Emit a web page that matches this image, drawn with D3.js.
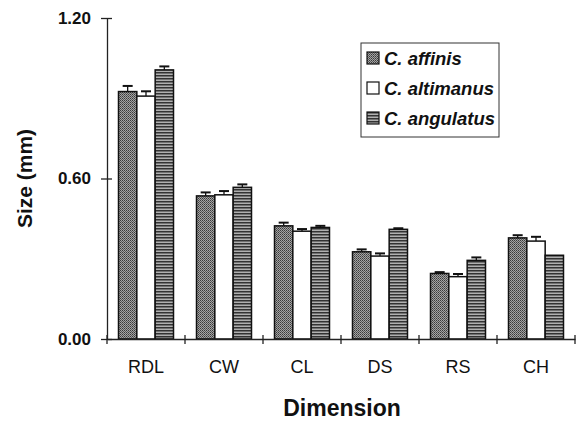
<!DOCTYPE html>
<html>
<head>
<meta charset="utf-8">
<script src="https://cdn.jsdelivr.net/npm/d3@7.9.0/dist/d3.min.js"></script>
<style>
  body { margin: 0; background: #fff; }
  svg { display: block; font-family: "Liberation Sans", Arial, sans-serif; }
</style>
</head>
<body>
<div id="chart"></div>
<script>
// values (mm)
const dimensions = ["RDL", "CW", "CL", "DS", "RS", "CH"];
const species = ["C. affinis", "C. altimanus", "C. angulatus"];
const affinisMean = [0.925, 0.535, 0.423, 0.326, 0.245, 0.378];
const affinisErr  = [0.021, 0.013, 0.012, 0.009, 0.005, 0.010];
const altimanusMean = [0.908, 0.539, 0.403, 0.310, 0.233, 0.366];
const altimanusErr  = [0.018, 0.014, 0.008, 0.010, 0.010, 0.016];
const angulatusMean = [1.006, 0.567, 0.417, 0.410, 0.294, 0.313];
const angulatusErr  = [0.013, 0.011, 0.006, 0.004, 0.011, 0.000];
const yTicks = [0, 0.6, 1.2];

const width = 577;
const height = 423;
const margin = { top: 18, right: 2, bottom: 84, left: 107 };

const means = [affinisMean, altimanusMean, angulatusMean];
const errs = [affinisErr, altimanusErr, angulatusErr];

const rows = [];
dimensions.forEach((dim, i) => {
  species.forEach((sp, j) => {
    rows.push({ dim, sp, mean: means[j][i], err: errs[j][i] });
  });
});

const svg = d3.select("#chart")
  .append("svg")
  .attr("width", width)
  .attr("height", height);

// fill patterns
const defs = svg.append("defs");

const dots = defs.append("pattern")
  .attr("id", "pat-affinis")
  .attr("patternUnits", "userSpaceOnUse")
  .attr("width", 2).attr("height", 2);
dots.append("rect").attr("width", 2).attr("height", 2).attr("fill", "#a4a4a4");
dots.append("rect").attr("width", 1).attr("height", 1).attr("fill", "#3a3a3a");
dots.append("rect").attr("x", 1).attr("y", 1).attr("width", 1).attr("height", 1).attr("fill", "#5a5a5a");

const stripes = defs.append("pattern")
  .attr("id", "pat-angulatus")
  .attr("patternUnits", "userSpaceOnUse")
  .attr("width", 4).attr("height", 3);
stripes.append("rect").attr("width", 4).attr("height", 3).attr("fill", "#b0b0b0");
stripes.append("rect").attr("width", 4).attr("height", 1.5).attr("fill", "#333");

const fills = {
  "C. affinis": "url(#pat-affinis)",
  "C. altimanus": "#fff",
  "C. angulatus": "url(#pat-angulatus)"
};

const x = d3.scaleBand()
  .domain(dimensions)
  .range([margin.left, width - margin.right]);

const xInner = d3.scaleBand()
  .domain(species)
  .range([-27.5, 27.5]);

const y = d3.scaleLinear()
  .domain([0, 1.2])
  .range([height - margin.bottom, margin.top]);

// bars
const bars = svg.append("g").attr("class", "bars");

bars.selectAll("rect")
  .data(rows)
  .join("rect")
  .attr("x", d => x(d.dim) + x.bandwidth() / 2 + xInner(d.sp))
  .attr("y", d => y(d.mean))
  .attr("width", xInner.bandwidth())
  .attr("height", d => y(0) - y(d.mean))
  .attr("fill", d => fills[d.sp])
  .attr("stroke", "#111")
  .attr("stroke-width", 1.5);

// error bars
const errG = svg.append("g").attr("class", "errors")
  .attr("stroke", "#111");

const cx = d => x(d.dim) + x.bandwidth() / 2 + xInner(d.sp) + xInner.bandwidth() / 2;

errG.selectAll("line.stem")
  .data(rows.filter(d => d.err > 0))
  .join("line")
  .attr("class", "stem")
  .attr("x1", cx).attr("x2", cx)
  .attr("y1", d => y(d.mean))
  .attr("y2", d => y(d.mean + d.err))
  .attr("stroke-width", 1.3);

errG.selectAll("line.cap")
  .data(rows.filter(d => d.err > 0))
  .join("line")
  .attr("class", "cap")
  .attr("x1", d => cx(d) - 5).attr("x2", d => cx(d) + 5)
  .attr("y1", d => y(d.mean + d.err))
  .attr("y2", d => y(d.mean + d.err))
  .attr("stroke-width", 2);

// y axis
const yAxis = svg.append("g")
  .attr("class", "y-axis")
  .attr("transform", `translate(${margin.left},0)`)
  .call(
    d3.axisLeft(y)
      .tickValues(yTicks)
      .tickFormat(d3.format(".2f"))
      .tickSizeInner(6)
      .tickSizeOuter(0)
      .tickPadding(10)
  );

yAxis.select(".domain").attr("stroke", "#222").attr("stroke-width", 1.3);
yAxis.selectAll(".tick line").attr("x2", 5).attr("x1", -6).attr("stroke", "#222").attr("stroke-width", 1.3);
yAxis.selectAll(".tick text")
  .attr("fill", "#111")
  .style("font-size", "17px")
  .style("font-weight", "bold");

// x axis
const xAxis = svg.append("g")
  .attr("class", "x-axis")
  .attr("transform", `translate(0,${y(0)})`)
  .call(d3.axisBottom(x).tickSize(0).tickPadding(21));

xAxis.select(".domain").attr("stroke", "#222").attr("stroke-width", 1.3);
xAxis.selectAll(".tick text")
  .attr("fill", "#111")
  .style("font-size", "18px");

const bounds = dimensions.map(d => x(d)).concat([x.range()[1]]);
xAxis.selectAll("line.sep")
  .data(bounds)
  .join("line")
  .attr("class", "sep")
  .attr("x1", d => d).attr("x2", d => d)
  .attr("y1", -4).attr("y2", 5)
  .attr("stroke", "#222")
  .attr("stroke-width", 1.3);

// axis titles
svg.append("text")
  .attr("transform", `translate(32,${(y(0) + y(1.2)) / 2}) rotate(-90)`)
  .attr("text-anchor", "middle")
  .attr("fill", "#111")
  .style("font-size", "21px")
  .style("font-weight", "bold")
  .text("Size (mm)");

svg.append("text")
  .attr("x", 342)
  .attr("y", 416)
  .attr("text-anchor", "middle")
  .attr("fill", "#111")
  .style("font-size", "23px")
  .style("font-weight", "bold")
  .text("Dimension");

// legend
const legend = svg.append("g").attr("class", "legend");

legend.append("rect")
  .attr("x", 361).attr("y", 43)
  .attr("width", 138).attr("height", 94)
  .attr("fill", "#fff")
  .attr("stroke", "#333")
  .attr("stroke-width", 1);

const legendY = d3.scalePoint()
  .domain(species)
  .range([58, 118]);

const item = legend.selectAll("g.item")
  .data(species)
  .join("g")
  .attr("class", "item")
  .attr("transform", d => `translate(367,${legendY(d)})`);

item.append("rect")
  .attr("x", 0).attr("y", -6)
  .attr("width", 12).attr("height", 12)
  .attr("fill", d => fills[d])
  .attr("stroke", "#111")
  .attr("stroke-width", 1.2);

item.append("text")
  .attr("x", 17)
  .attr("dy", "0.36em")
  .attr("fill", "#111")
  .style("font-size", "18.5px")
  .style("font-style", "italic")
  .style("font-weight", "bold")
  .text(d => d);
</script>
</body>
</html>
